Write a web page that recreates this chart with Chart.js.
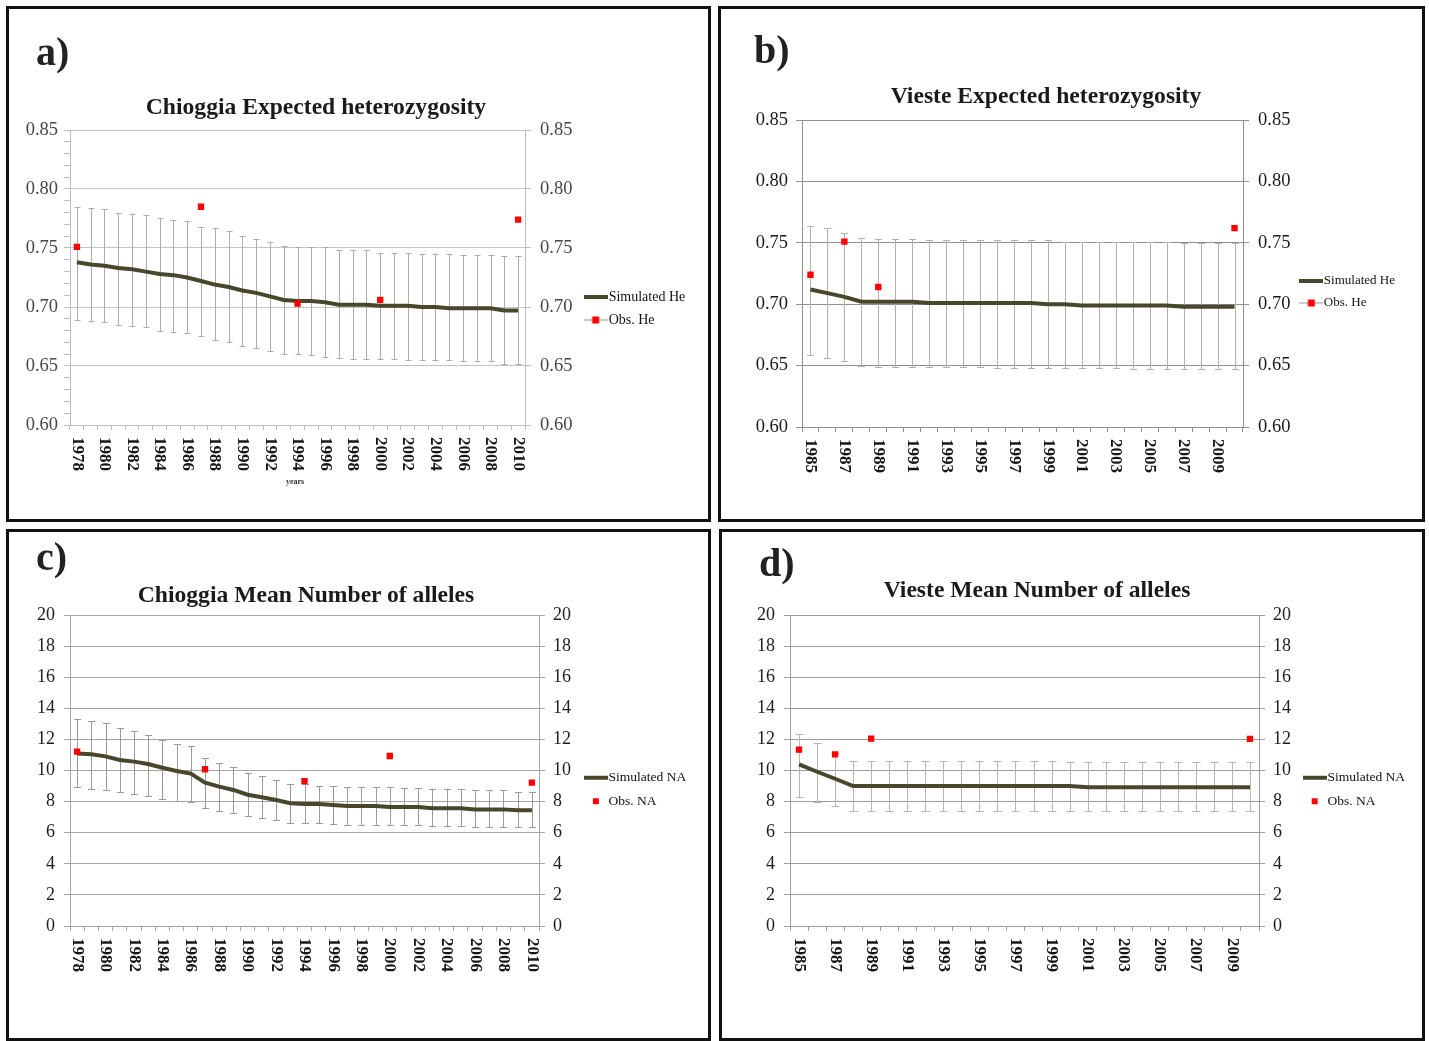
<!DOCTYPE html>
<html><head><meta charset="utf-8">
<script src="https://cdn.jsdelivr.net/npm/chart.js@4.4.1/dist/chart.umd.min.js"></script>
<style>
html,body{margin:0;padding:0;background:#fff;}
body{width:1429px;height:1041px;position:relative;overflow:hidden;font-family:'Liberation Serif','Times New Roman',serif;}
.panel{position:absolute;box-sizing:border-box;border:3px solid #111;background:#fff;}
.panel canvas{position:absolute;left:0;top:0;}
.tag{position:absolute;font-weight:bold;font-size:40px;line-height:40px;color:#222;white-space:nowrap;}
.ttl{position:absolute;width:600px;text-align:center;font-weight:bold;font-size:23.6px;line-height:24px;color:#1a1a1a;white-space:nowrap;}
.years{position:absolute;font-weight:bold;font-size:8px;line-height:8px;color:#333;}
</style></head><body>
<div class="panel" style="left:6px;top:6px;width:705px;height:516px"><canvas id="ca" width="699" height="510"></canvas></div>
<div class="panel" style="left:718px;top:6px;width:707px;height:516px"><canvas id="cb" width="701" height="510"></canvas></div>
<div class="panel" style="left:6px;top:529px;width:705px;height:512px"><canvas id="cc" width="699" height="506"></canvas></div>
<div class="panel" style="left:719px;top:529px;width:706px;height:512px"><canvas id="cd" width="700" height="506"></canvas></div>

<div class="tag" style="left:36px;top:32px">a)</div>
<div class="tag" style="left:754px;top:30px">b)</div>
<div class="tag" style="left:36px;top:537px">c)</div>
<div class="tag" style="left:759px;top:543px">d)</div>

<div class="ttl" style="left:16px;top:94px">Chioggia Expected heterozygosity</div>
<div class="ttl" style="left:746px;top:83px">Vieste Expected heterozygosity</div>
<div class="ttl" style="left:6px;top:582px">Chioggia Mean Number of alleles</div>
<div class="ttl" style="left:737px;top:577px">Vieste Mean Number of alleles</div>
<div class="years" style="left:286px;top:478px">years</div>

<script>
// ---------- categories ----------
const yearsChioggia = ['1978','1979','1980','1981','1982','1983','1984','1985','1986','1987','1988','1989','1990','1991','1992','1993','1994','1995','1996','1997','1998','1999','2000','2001','2002','2003','2004','2005','2006','2007','2008','2009','2010'];
const yearsVieste = ['1985','1986','1987','1988','1989','1990','1991','1992','1993','1994','1995','1996','1997','1998','1999','2000','2001','2002','2003','2004','2005','2006','2007','2008','2009','2010'];

// ---------- tick labels ----------
const heTickLabels = ['0.60','0.65','0.70','0.75','0.80','0.85'];
const naTickLabels = ['0','2','4','6','8','10','12','14','16','18','20'];

// ---------- a) Chioggia expected heterozygosity ----------
const simHeChioggia = [0.738,0.736,0.735,0.733,0.732,0.730,0.728,0.727,0.725,0.722,0.719,0.717,0.714,0.712,0.709,0.706,0.705,0.705,0.704,0.702,0.702,0.702,0.701,0.701,0.701,0.700,0.700,0.699,0.699,0.699,0.699,0.697,0.697];
const upperHeChioggia = [0.785,0.784,0.783,0.780,0.779,0.778,0.775,0.774,0.773,0.768,0.767,0.764,0.760,0.758,0.755,0.752,0.751,0.751,0.751,0.748,0.748,0.748,0.746,0.746,0.746,0.745,0.745,0.745,0.744,0.744,0.744,0.743,0.743];
const lowerHeChioggia = [0.689,0.688,0.687,0.685,0.684,0.683,0.680,0.679,0.678,0.675,0.672,0.670,0.667,0.665,0.663,0.660,0.660,0.659,0.658,0.657,0.656,0.656,0.656,0.656,0.655,0.655,0.655,0.655,0.654,0.654,0.654,0.652,0.652];
const obsYearsChioggia = ['1978','1987','1994','2000','2010'];
const obsHeChioggia = [0.751,0.785,0.703,0.706,0.774];

// ---------- b) Vieste expected heterozygosity ----------
const simHeVieste = [0.712,0.709,0.706,0.702,0.702,0.702,0.702,0.701,0.701,0.701,0.701,0.701,0.701,0.701,0.700,0.700,0.699,0.699,0.699,0.699,0.699,0.699,0.698,0.698,0.698,0.698];
const upperHeVieste = [0.764,0.762,0.758,0.754,0.753,0.753,0.753,0.752,0.752,0.752,0.752,0.752,0.752,0.752,0.752,0.751,0.751,0.751,0.751,0.751,0.751,0.751,0.750,0.750,0.750,0.750];
const lowerHeVieste = [0.659,0.656,0.654,0.650,0.649,0.649,0.649,0.649,0.649,0.649,0.649,0.648,0.648,0.648,0.648,0.648,0.648,0.648,0.648,0.647,0.647,0.647,0.647,0.647,0.647,0.647];
const obsYearsVieste = ['1985','1987','1989','2010'];
const obsHeVieste = [0.724,0.751,0.714,0.762];

// ---------- c) Chioggia mean number of alleles ----------
const simNaChioggia = [11.10,11.04,10.91,10.68,10.57,10.42,10.18,9.97,9.80,9.22,8.96,8.75,8.44,8.28,8.10,7.89,7.85,7.85,7.78,7.72,7.72,7.72,7.65,7.65,7.65,7.57,7.57,7.57,7.50,7.50,7.50,7.44,7.44];
const upperNaChioggia = [13.31,13.16,13.05,12.75,12.54,12.30,11.94,11.73,11.55,10.78,10.46,10.23,9.84,9.67,9.41,9.15,9.13,9.02,9.02,8.92,8.92,8.92,8.92,8.85,8.85,8.81,8.81,8.81,8.75,8.75,8.75,8.64,8.64];
const lowerNaChioggia = [8.92,8.83,8.75,8.60,8.47,8.34,8.15,8.06,7.97,7.57,7.40,7.27,7.07,6.95,6.82,6.62,6.62,6.62,6.56,6.50,6.50,6.50,6.50,6.50,6.50,6.45,6.45,6.45,6.39,6.39,6.39,6.39,6.39];
const obsNaChioggia = [11.21,10.08,9.32,10.93,9.22];

// ---------- d) Vieste mean number of alleles ----------
const simNaVieste = [10.40,9.92,9.47,9.00,9.00,9.00,9.00,9.00,9.00,9.00,9.00,9.00,9.00,9.00,9.00,9.00,8.92,8.92,8.92,8.92,8.92,8.92,8.92,8.92,8.92,8.92];
const upperNaVieste = [12.37,11.79,11.13,10.59,10.59,10.59,10.59,10.59,10.59,10.59,10.59,10.59,10.59,10.59,10.59,10.53,10.53,10.53,10.53,10.53,10.53,10.53,10.53,10.53,10.53,10.53];
const lowerNaVieste = [8.27,7.97,7.70,7.42,7.42,7.42,7.42,7.42,7.42,7.42,7.42,7.42,7.42,7.42,7.42,7.38,7.38,7.38,7.38,7.38,7.38,7.38,7.38,7.38,7.38,7.38];
const obsNaVieste = [11.34,11.04,12.05,12.03];

// ---------- styling ----------
const SIM_COLOR = '#48462b';
const OBS_COLOR = '#ff0000';
const SERIF = "'Liberation Serif','Times New Roman',serif";

function makeIcon(w, h, drawFn) {
  const c = document.createElement('canvas');
  c.width = w; c.height = h;
  drawFn(c.getContext('2d'));
  return c;
}
const simIcon = makeIcon(24, 6, g => { g.fillStyle = SIM_COLOR; g.fillRect(0, 1, 24, 4); });
const obsIconLine = makeIcon(24, 8, g => {
  g.fillStyle = '#9a9a9a'; g.fillRect(0, 3.5, 24, 1);
  g.fillStyle = OBS_COLOR; g.fillRect(8.5, 0.5, 7, 7);
});
const obsIconDot = makeIcon(24, 8, g => { g.fillStyle = OBS_COLOR; g.fillRect(9, 1, 6, 6); });

// measure the legend's natural width so its left edge can be placed
const measureCtx = document.createElement('canvas').getContext('2d');
function legendWidth(texts, size, pad) {
  measureCtx.font = size + 'px ' + SERIF;
  const tw = Math.max(...texts.map(t => measureCtx.measureText(t).width));
  return pad + 12 + size / 2 + tw + 10;
}

// error bars drawn through the chart's scales
const errorBars = {
  id: 'errorBars',
  beforeDatasetsDraw(chart, args, opts) {
    const {ctx} = chart;
    const x = chart.scales.x, y = chart.scales.y;
    ctx.save();
    ctx.strokeStyle = opts.color;
    ctx.lineWidth = 1;
    opts.upper.forEach((u, i) => {
      const px = Math.round(x.getPixelForValue(i)) + 0.5;
      const pu = Math.round(y.getPixelForValue(u)) + 0.5;
      const pl = Math.round(y.getPixelForValue(opts.lower[i])) + 0.5;
      ctx.beginPath();
      ctx.moveTo(px, pu); ctx.lineTo(px, pl);
      ctx.moveTo(px - opts.cap, pu); ctx.lineTo(px + opts.cap, pu);
      ctx.moveTo(px - opts.cap, pl); ctx.lineTo(px + opts.cap, pl);
      ctx.stroke();
    });
    ctx.restore();
  }
};

// vertical year labels (reading top to bottom), every other category
const yearLabels = {
  id: 'yearLabels',
  afterDraw(chart, args, opts) {
    const {ctx} = chart;
    const x = chart.scales.x;
    ctx.save();
    ctx.font = opts.font;
    ctx.fillStyle = opts.color;
    ctx.textAlign = 'left';
    ctx.textBaseline = 'middle';
    chart.data.labels.forEach((lab, i) => {
      if (i % 2 !== 0) return;
      ctx.save();
      ctx.translate(x.getPixelForValue(i), x.top + opts.gap);
      ctx.rotate(Math.PI / 2);
      ctx.fillText(lab, 0, 0);
      ctx.restore();
    });
    ctx.restore();
  }
};

function build(id, o) {
  const canvas = document.getElementById(id);
  const W = canvas.width, H = canvas.height;
  const padB = H - o.area.bottom - 6;
  const padR = Math.round(W - o.legLeft - legendWidth([o.simLabel, o.obsLabel], o.legFont, o.legPad));
  const tickVals = o.tickLabels.map(Number);
  const yMin = tickVals[0], yMax = tickVals[tickVals.length - 1];
  const step = tickVals[1] - tickVals[0];
  const isMajor = v => o.tickLabels.includes(v.toFixed(o.dec));
  const tickCb = v => (isMajor(v) ? v.toFixed(o.dec) : '');
  const yTickFont = {family: SERIF, size: o.tickSize};
  return new Chart(canvas, {
    type: 'line',
    data: {
      labels: o.labels,
      datasets: [
        {label: o.simLabel, data: o.sim, borderColor: SIM_COLOR, backgroundColor: SIM_COLOR,
         borderWidth: 4, pointRadius: 0, pointHoverRadius: 0, tension: 0, fill: false, order: 2},
        {label: o.obsLabel, data: o.obsYears.map((yr, i) => ({x: yr, y: o.obs[i]})),
         showLine: false, pointStyle: 'rect', pointRadius: o.ptR, pointHoverRadius: o.ptR,
         backgroundColor: OBS_COLOR, borderColor: OBS_COLOR, pointBorderWidth: 0, order: 1}
      ]
    },
    options: {
      responsive: false, animation: false, events: [],
      layout: {padding: {left: 0, top: o.area.top, right: padR, bottom: padB}},
      scales: {
        x: {
          type: 'category', offset: true,
          grid: {offset: true, drawOnChartArea: false, drawTicks: true, tickLength: 5, tickColor: o.axis},
          border: {color: o.axis},
          ticks: {display: false},
          afterFit: s => { s.height = 6; }
        },
        y: {
          position: 'left', min: yMin, max: yMax,
          ticks: {stepSize: o.minor ? 0.01 : step, autoSkip: false, maxTicksLimit: 40, callback: tickCb,
                  font: yTickFont, color: o.tickColor, padding: o.padL},
          grid: {color: c => (isMajor(c.tick.value) ? o.grid : 'rgba(0,0,0,0)'), tickLength: 6, tickColor: o.axis},
          border: {color: o.axis},
          afterFit: s => { s.width = o.area.left; }
        },
        y2: {
          position: 'right', min: yMin, max: yMax,
          ticks: {stepSize: step, autoSkip: false, callback: tickCb, font: yTickFont, color: o.tickColor, padding: o.padRt},
          grid: {drawOnChartArea: false, tickLength: 6, tickColor: o.axis},
          border: {color: o.axis},
          afterFit: s => {
            const lw = s.chart.legend ? s.chart.legend.width : 0;
            s.width = s.chart.width - padR - lw - o.area.right;
          }
        }
      },
      plugins: {
        tooltip: {enabled: false},
        legend: {
          position: 'right', align: 'center',
          title: {display: true, text: '', font: {size: 10, lineHeight: 1}, padding: {top: o.legShift - 10, bottom: 0}},
          labels: {
            usePointStyle: true, pointStyleWidth: 12, padding: o.legPad,
            font: {family: SERIF, size: o.legFont}, color: '#111',
            generateLabels: chart => Chart.defaults.plugins.legend.labels.generateLabels(chart)
              .sort((a, b) => a.datasetIndex - b.datasetIndex)
              .map(it => Object.assign(it, {pointStyle: it.datasetIndex === 0 ? simIcon : o.obsIcon}))
          }
        },
        errorBars: {upper: o.upper, lower: o.lower, color: o.err, cap: o.cap},
        yearLabels: {font: 'bold 17px ' + SERIF, color: '#151515', gap: 12}
      }
    },
    plugins: [errorBars, yearLabels]
  });
}

build('ca', {
  labels: yearsChioggia, sim: simHeChioggia, upper: upperHeChioggia, lower: lowerHeChioggia,
  obsYears: obsYearsChioggia, obs: obsHeChioggia, simLabel: 'Simulated He', obsLabel: 'Obs. He',
  tickLabels: heTickLabels, dec: 2, minor: true, tickSize: 18.5,
  area: {left: 61, right: 516, top: 121, bottom: 416}, legLeft: 571,
  padL: 6, padRt: 9, legShift: 56, legPad: 9, legFont: 14, obsIcon: obsIconLine, ptR: 4.5,
  grid: '#c4c4c4', axis: '#bdbdbd', err: '#acacac', tickColor: '#474747', cap: 3
});
build('cb', {
  labels: yearsVieste, sim: simHeVieste, upper: upperHeVieste, lower: lowerHeVieste,
  obsYears: obsYearsVieste, obs: obsHeVieste, simLabel: 'Simulated He', obsLabel: 'Obs. He',
  tickLabels: heTickLabels, dec: 2, minor: false, tickSize: 18.5,
  area: {left: 81, right: 522, top: 111, bottom: 418}, legLeft: 575,
  padL: 8, padRt: 9, legShift: 31, legPad: 9, legFont: 13, obsIcon: obsIconLine, ptR: 4.5,
  grid: '#8f8f8f', axis: '#8f8f8f', err: '#b4b2a4', tickColor: '#1a1a1a', cap: 3.5
});
build('cc', {
  labels: yearsChioggia, sim: simNaChioggia, upper: upperNaChioggia, lower: lowerNaChioggia,
  obsYears: obsYearsChioggia, obs: obsNaChioggia, simLabel: 'Simulated NA', obsLabel: 'Obs. NA',
  tickLabels: naTickLabels, dec: 0, minor: false, tickSize: 18,
  area: {left: 61, right: 530, top: 83, bottom: 394}, legLeft: 569,
  padL: 9, padRt: 8, legShift: 32, legPad: 10, legFont: 13.5, obsIcon: obsIconDot, ptR: 4.5,
  grid: '#a6a6a6', axis: '#a6a6a6', err: '#9a9a9a', tickColor: '#1e1e1e', cap: 3.5
});
build('cd', {
  labels: yearsVieste, sim: simNaVieste, upper: upperNaVieste, lower: lowerNaVieste,
  obsYears: obsYearsVieste, obs: obsNaVieste, simLabel: 'Simulated NA', obsLabel: 'Obs. NA',
  tickLabels: naTickLabels, dec: 0, minor: false, tickSize: 18,
  area: {left: 68, right: 537, top: 83, bottom: 394}, legLeft: 576,
  padL: 9, padRt: 8, legShift: 32, legPad: 10, legFont: 13.5, obsIcon: obsIconDot, ptR: 4.5,
  grid: '#9c9c9c', axis: '#9c9c9c', err: '#b8b6a8', tickColor: '#1e1e1e', cap: 4
});
</script>
</body></html>
